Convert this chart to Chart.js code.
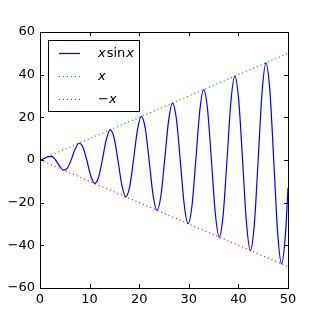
<!DOCTYPE html>
<html><head><meta charset="utf-8">
<script src="https://cdn.jsdelivr.net/npm/chart.js@4"></script>
<style>html,body{margin:0;padding:0;background:#fff}#wrap{width:320px;height:320px}</style>
</head><body><div id="wrap"><canvas id="c" width="320" height="320"></canvas></div>
<script>
// x values (zeros, quarter points, extrema)
const curveX = [0,0.785,1.571,2.356,3.142,3.927,4.712,5.498,6.283,7.069,7.854,8.639,9.425,10.21,10.996,11.781,12.566,13.352,14.137,14.923,15.708,16.493,17.279,18.064,18.85,19.635,20.42,21.206,21.991,22.777,23.562,24.347,25.133,25.918,26.704,27.489,28.274,29.06,29.845,30.631,31.416,32.201,32.987,33.772,34.558,35.343,36.128,36.914,37.699,38.485,39.27,40.055,40.841,41.626,42.412,43.197,43.982,44.768,45.553,46.338,47.124,47.909,48.695,49.48,50];
const curveY = [0,0.555,1.571,1.666,0,-2.777,-4.712,-3.888,0,4.998,7.854,6.109,0,-7.22,-10.996,-8.33,0,9.441,14.137,10.552,0,-11.663,-17.279,-12.773,0,13.884,20.42,14.995,0,-16.106,-23.562,-17.216,0,18.327,26.704,19.438,0,-20.549,-29.845,-21.659,0,22.77,32.987,23.881,0,-24.991,-36.128,-26.102,0,27.213,39.27,28.323,0,-29.434,-42.412,-30.545,0,31.656,45.553,32.766,0,-33.877,-48.695,-34.988,-13.12];
const lineX = [0, 50];
const upperY = [0, 50];
const lowerY = [0, -50];
const xTicks = [0,10,20,30,40,50];
const yTicks = [-60,-40,-20,0,20,40,60];
const seriesLabels = ['x sin x', 'x', '\u2212x'];

const pts = (xs, ys) => xs.map((x,i)=>({x, y: ys[i]}));
const FONT = 'DejaVu Sans';

const framePlugin = {
  id: 'frame',
  afterDraw(chart) {
    const {ctx, chartArea: a, scales} = chart;
    ctx.save();
    ctx.strokeStyle = '#000';
    ctx.lineWidth = 1;
    ctx.beginPath();
    xTicks.forEach(v => {
      const px = Math.round(scales.x.getPixelForValue(v)) + 0.5;
      ctx.moveTo(px, a.bottom); ctx.lineTo(px, a.bottom - 4);
      ctx.moveTo(px, a.top); ctx.lineTo(px, a.top + 4);
    });
    yTicks.forEach(v => {
      const py = Math.round(scales.y.getPixelForValue(v)) + 0.5;
      ctx.moveTo(a.left, py); ctx.lineTo(a.left + 4, py);
      ctx.moveTo(a.right, py); ctx.lineTo(a.right - 4, py);
    });
    ctx.stroke();
    ctx.strokeRect(Math.round(a.left)+0.5, Math.round(a.top)+0.5, Math.round(a.right-a.left), Math.round(a.bottom-a.top));
    const lx = 48.5, ly = 40.5, lw = 91, lh = 71;
    ctx.fillStyle = '#fff';
    ctx.fillRect(lx, ly, lw, lh);
    ctx.strokeStyle = '#000';
    ctx.strokeRect(lx, ly, lw, lh);
    const ds = chart.data.datasets;
    ds.forEach((d, i) => {
      const y = Math.round(53 + i*23) + 0.5;
      ctx.beginPath();
      ctx.strokeStyle = d.borderColor;
      ctx.lineWidth = 1.2;
      ctx.setLineDash(d.borderDash || []);
      ctx.moveTo(59, y); ctx.lineTo(80, y);
      ctx.stroke();
      ctx.setLineDash([]);
      ctx.fillStyle = '#000';
      ctx.textBaseline = 'middle';
      ctx.textAlign = 'left';
      let tx = 98;
      const label = d.label;
      if (i === 0) {
        ctx.font = 'italic 13px ' + FONT; ctx.fillText('x', tx, y); tx += ctx.measureText('x').width + 1;
        ctx.font = '13px ' + FONT; ctx.fillText('sin', tx, y); tx += ctx.measureText('sin').width + 1;
        ctx.font = 'italic 13px ' + FONT; ctx.fillText('x', tx, y);
      } else if (i === 1) {
        ctx.font = 'italic 13px ' + FONT; ctx.fillText(label, tx, y);
      } else {
        ctx.font = '13px ' + FONT; ctx.fillText('\u2212', tx, y); tx += ctx.measureText('\u2212').width;
        ctx.font = 'italic 13px ' + FONT; ctx.fillText('x', tx, y);
      }
    });
    ctx.restore();
  }
};

new Chart(document.getElementById('c'), {
  type: 'line',
  data: {
    datasets: [
      {label: seriesLabels[0], data: pts(curveX, curveY), borderColor: '#0000ff', borderWidth: 1.2, pointRadius: 0, cubicInterpolationMode: 'monotone', fill: false},
      {label: seriesLabels[1], data: pts(lineX, upperY), borderColor: '#00a000', borderWidth: 1.2, borderDash: [1,3], pointRadius: 0, fill: false},
      {label: seriesLabels[2], data: pts(lineX, lowerY), borderColor: '#ff0000', borderWidth: 1.2, borderDash: [1,3], pointRadius: 0, fill: false}
    ]
  },
  options: {
    responsive: false,
    animation: false,
    events: [],
    layout: {padding: {top: 32, right: 32, left: 0, bottom: 0}},
    plugins: {legend: {display: false}, tooltip: {enabled: false}},
    scales: {
      x: {
        type: 'linear', min: 0, max: 50,
        afterFit: s => { s.height = 32; },
        afterBuildTicks: s => { s.ticks = xTicks.map(v => ({value: v})); },
        grid: {display: false, drawTicks: false},
        border: {display: false},
        ticks: {color: '#000', font: {family: FONT, size: 13}, padding: 4, maxRotation: 0,
          callback: v => String(v).replace('-', '\u2212')}
      },
      y: {
        type: 'linear', min: -60, max: 60,
        afterFit: s => { s.width = 40; },
        afterBuildTicks: s => { s.ticks = yTicks.map(v => ({value: v})); },
        grid: {display: false, drawTicks: false},
        border: {display: false},
        ticks: {color: '#000', font: {family: FONT, size: 13}, padding: 5,
          callback: v => String(v).replace('-', '\u2212')}
      }
    }
  },
  plugins: [framePlugin]
});
</script></body></html>
